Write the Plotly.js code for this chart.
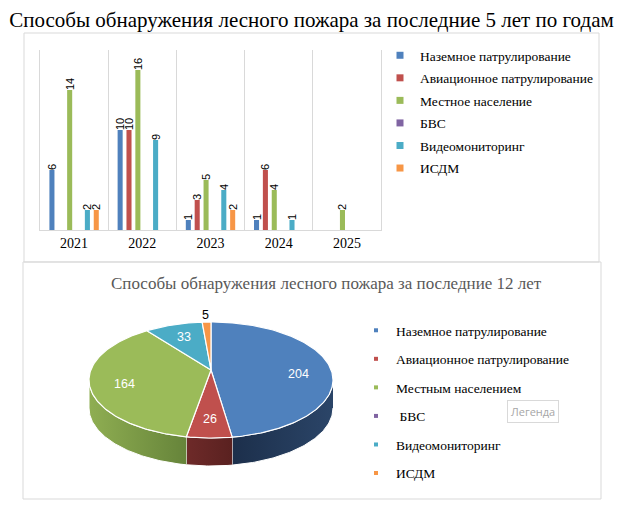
<!DOCTYPE html>
<html>
<head>
<meta charset="utf-8">
<script src="https://cdn.plot.ly/plotly-3.0.1.min.js"></script>
<style>
  html, body { margin: 0; padding: 0; background: #fff; }
  #chart { width: 623px; height: 519px; }
</style>
</head>
<body>
<div id="chart"></div>
<script>
// bar chart: detections per year
var years = ['2021', '2022', '2023', '2024', '2025'];
var barNames = ['Наземное патрулирование', 'Авиационное патрулирование', 'Местное население',
                'БВС', 'Видеомониторинг', 'ИСДМ'];
var ground   = [6, 10, 1, 1, 0];
var aviation = [0, 10, 3, 6, 0];
var locals   = [14, 16, 5, 4, 2];
var uav      = [0, 0, 0, 0, 0];
var video    = [2, 9, 4, 1, 0];
var isdm     = [2, 0, 2, 0, 0];

// pie chart: total for 12 years
var pieNames  = ['Наземное патрулирование', 'Авиационное патрулирование', 'Местным населением',
                 '\u00a0БВС', 'Видеомониторинг', 'ИСДМ'];
var pieValues = [204, 26, 164, 0, 33, 5];

var colors     = ['#4F81BD', '#C0504D', '#9BBB59', '#8064A2', '#4BACC6', '#F79646'];
var sideColors = [['#1C2F4B', '#2B4568'], ['#6E2A29', '#5A2120'], ['#8FAE52', '#66843A'],
                  ['#4B3A62', '#3C2E4F'], ['#2C7184', '#245D6C'], ['#B86A2A', '#9A5822']];

var W = 623, H = 519;
var serif = 'Liberation Serif';
var sans = 'Liberation Sans';
function px(x) { return x / W; }
function py(y) { return 1 - y / H; }

var data = [];
var series = [ground, aviation, locals, uav, video, isdm];

series.forEach(function(vals, i) {
    data.push({
        type: 'bar',
        x: years,
        y: vals,
        name: barNames[i],
        marker: {color: colors[i]},
        text: vals.map(function(v) { return v ? String(v) : ''; }),
        textposition: 'outside',
        textangle: -90,
        constraintext: 'none',
        cliponaxis: false,
        textfont: {family: sans, size: 11, color: '#000'},
        showlegend: false,
        hoverinfo: 'skip'
    });
});

// legend entries for the bar chart
barNames.forEach(function(n, i) {
    data.push({
        type: 'scatter', mode: 'markers', x: [null], y: [null],
        name: n, legend: 'legend', legendgroup: 'b' + i,
        marker: {symbol: 'square', size: 7, color: colors[i]},
        hoverinfo: 'skip'
    });
});

//
// pseudo 3D pie drawn on a pixel axis (x2/y2)
//
var pie = {cx: 211, cy: 380, rx: 122, ry: 58, apexDy: -10, depth: 28};
var total = pieValues.reduce(function(a, b) { return a + b; }, 0);

function rim(deg, dy) {
    var r = deg * Math.PI / 180;
    return [pie.cx + pie.rx * Math.sin(r), pie.cy - pie.ry * Math.cos(r) + (dy || 0)];
}

var slices = [], acc = 0;
pieValues.forEach(function(v, i) {
    var a0 = acc / total * 360;
    acc += v;
    var a1 = acc / total * 360;
    slices.push({i: i, a0: a0, a1: a1, v: v});
});

// side walls (front half only)
slices.forEach(function(s) {
    if (!s.v) return;
    var s0 = Math.max(s.a0, 90), s1 = Math.min(s.a1, 270);
    if (s0 >= s1) return;
    var xs = [], ys = [], top = [], a;
    for (a = s0; a < s1; a += 1) top.push(a);
    top.push(s1);
    top.forEach(function(d) { var p = rim(d); xs.push(p[0]); ys.push(p[1]); });
    top.slice().reverse().forEach(function(d) { var p = rim(d, pie.depth); xs.push(p[0]); ys.push(p[1]); });
    data.push({
        type: 'scatter', mode: 'lines', xaxis: 'x2', yaxis: 'y2',
        x: xs, y: ys, fill: 'toself',
        fillcolor: sideColors[s.i][0],
        fillgradient: {type: 'horizontal', colorscale: [[0, sideColors[s.i][0]], [1, sideColors[s.i][1]]]},
        line: {color: '#ffffff', width: 1},
        showlegend: false, hoverinfo: 'skip'
    });
});

// top faces
slices.forEach(function(s) {
    if (!s.v) return;
    var xs = [pie.cx], ys = [pie.cy + pie.apexDy], a;
    for (a = s.a0; a < s.a1; a += 1) { var p = rim(a); xs.push(p[0]); ys.push(p[1]); }
    var q = rim(s.a1); xs.push(q[0]); ys.push(q[1]);
    xs.push(pie.cx); ys.push(pie.cy + pie.apexDy);
    data.push({
        type: 'scatter', mode: 'lines', xaxis: 'x2', yaxis: 'y2',
        x: xs, y: ys, fill: 'toself', fillcolor: colors[s.i],
        line: {color: '#ffffff', width: 1.2},
        showlegend: false, hoverinfo: 'skip'
    });
});

// legend entries for the pie
pieNames.forEach(function(n, i) {
    data.push({
        type: 'scatter', mode: 'markers', x: [null], y: [null], xaxis: 'x2', yaxis: 'y2',
        name: n, legend: 'legend2', legendgroup: 'p' + i,
        marker: {symbol: 'square', size: 4, color: colors[i]},
        hoverinfo: 'skip'
    });
});

// slice labels
var annotations = [];
slices.forEach(function(s) {
    if (!s.v) return;
    var mid = (s.a0 + s.a1) / 2;
    var p = rim(mid);
    var ax = pie.cx, ay = pie.cy + pie.apexDy;
    var small = s.v / total < 0.03;
    var f = small ? 1.15 : 0.72;
    annotations.push({
        xref: 'x2', yref: 'y2',
        x: ax + f * (p[0] - ax), y: ay + f * (p[1] - ay),
        text: String(s.v), showarrow: false,
        font: {family: sans, size: 12.5, color: small ? '#000' : '#fff'}
    });
});

annotations.push({
    xref: 'paper', yref: 'paper', x: px(326), y: py(283),
    text: 'Способы обнаружения лесного пожара за последние 12 лет',
    showarrow: false, font: {family: serif, size: 17, color: '#595959'}
});
annotations.push({
    xref: 'paper', yref: 'paper', x: px(559), y: py(423),
    text: 'Легенда', showarrow: false,
    bgcolor: '#ffffff', bordercolor: '#D9D9D9', borderwidth: 1, borderpad: 3,
    font: {family: 'Open Sans', size: 11, color: '#A6A6A6'}
});

var layout = {
    width: W, height: H,
    margin: {l: 0, r: 0, t: 0, b: 0},
    paper_bgcolor: '#ffffff',
    plot_bgcolor: 'rgba(0,0,0,0)',
    hovermode: false,
    title: {
        text: 'Способы обнаружения лесного пожара за последние 5 лет по годам',
        font: {family: serif, size: 21, color: '#000'},
        x: 0.5, xanchor: 'center', xref: 'paper',
        y: py(20), yanchor: 'middle', yref: 'paper'
    },
    barmode: 'group',
    bargap: 0.22,
    bargroupgap: 0.43,
    xaxis: {
        domain: [px(40), px(381)],
        type: 'category',
        tickson: 'boundaries',
        showgrid: true, gridcolor: '#D9D9D9',
        showline: true, linecolor: '#D9D9D9',
        ticks: '',
        tickfont: {family: serif, size: 14, color: '#000'},
        fixedrange: true
    },
    yaxis: {
        domain: [py(230), py(50)],
        range: [0, 18],
        showgrid: false, zeroline: false, showticklabels: false,
        showline: true, mirror: true, linecolor: '#D9D9D9',
        ticks: '', fixedrange: true
    },
    xaxis2: {domain: [0, 1], range: [0, W], anchor: 'y2', visible: false, fixedrange: true},
    yaxis2: {domain: [0, 1], range: [H, 0], anchor: 'x2', visible: false, fixedrange: true},
    legend: {
        x: px(380), xanchor: 'left', y: py(40), yanchor: 'top',
        traceorder: 'grouped', tracegroupgap: 2,
        font: {family: serif, size: 13.5, color: '#000'},
        bgcolor: 'rgba(0,0,0,0)'
    },
    legend2: {
        x: px(356), xanchor: 'left', y: py(315), yanchor: 'top',
        traceorder: 'grouped', tracegroupgap: 8,
        font: {family: serif, size: 13.5, color: '#000'},
        bgcolor: 'rgba(0,0,0,0)'
    },
    shapes: [
        {type: 'rect', xref: 'paper', yref: 'paper', x0: px(24), x1: px(599), y0: py(262), y1: py(33),
         line: {color: '#D9D9D9', width: 1}},
        {type: 'rect', xref: 'paper', yref: 'paper', x0: px(23), x1: px(601), y0: py(499), y1: py(262),
         line: {color: '#D9D9D9', width: 1}}
    ],
    annotations: annotations
};

Plotly.newPlot('chart', data, layout, {displayModeBar: false, staticPlot: true});
</script>
</body>
</html>
